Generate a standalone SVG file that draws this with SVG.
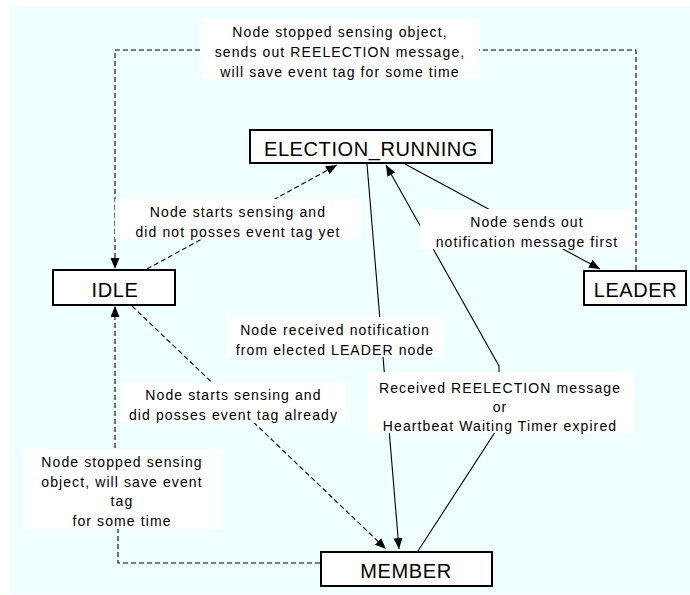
<svg xmlns="http://www.w3.org/2000/svg" width="690" height="595" viewBox="0 0 690 595">
<style>
.bg{fill:#f0ffff}
.edge{fill:none;stroke:#000;stroke-width:1.1}
.dash{stroke-dasharray:5,3}
.lbox{fill:#fff}
.lbl{font-family:"Liberation Sans",Arial,sans-serif;font-size:14px;letter-spacing:1.1px;text-anchor:middle;fill:#000}
.node rect{fill:#fff;stroke:#000;stroke-width:2}
.node text{font-family:"Liberation Sans",Arial,sans-serif;font-size:20px;letter-spacing:0.6px;text-anchor:middle;fill:#000}
</style>
<defs>
<marker id="arr" markerUnits="userSpaceOnUse" markerWidth="12" markerHeight="10" refX="11" refY="4.5" orient="auto">
<path d="M0,0 L11,4.5 L0,9 z" fill="#000"/>
</marker>
</defs>
<rect class="bg" x="10" y="6" width="680" height="588"/>
<g id="connectors">
<path class="edge dash" d="M636,270 V50 H115 V269" marker-end="url(#arr)"/>
<path class="edge dash" d="M147,269 L337,165" marker-end="url(#arr)"/>
<path class="edge" d="M405,164 L600,269" marker-end="url(#arr)"/>
<path class="edge" d="M367,164 L399,549" marker-end="url(#arr)"/>
<path class="edge" d="M418,551 L499,426 L499,366 L386,165" marker-end="url(#arr)"/>
<path class="edge dash" d="M132,306 L386,549" marker-end="url(#arr)"/>
<path class="edge dash" d="M320,563 H118 V490 H115 V306" marker-end="url(#arr)"/>
<g id="label-leader-idle">
<rect class="lbox" x="201" y="19" width="278" height="60"/>
<text class="lbl" x="340" y="37">Node stopped sensing object,</text>
<text class="lbl" x="340" y="57">sends out REELECTION message,</text>
<text class="lbl" x="340" y="76.5">will save event tag for some time</text>
</g>
<g id="label-idle-er">
<rect class="lbox" x="115" y="199" width="245" height="40"/>
<text class="lbl" x="238" y="217">Node starts sensing and</text>
<text class="lbl" x="238" y="236.5">did not posses event tag yet</text>
</g>
<g id="label-er-leader">
<rect class="lbox" x="420" y="209" width="214" height="40"/>
<text class="lbl" x="527" y="227">Node sends out</text>
<text class="lbl" x="527" y="246.5">notification message first</text>
</g>
<g id="label-er-member">
<rect class="lbox" x="227" y="317" width="216" height="40"/>
<text class="lbl" x="335" y="335">Node received notification</text>
<text class="lbl" x="335" y="354.5">from elected LEADER node</text>
</g>
<g id="label-idle-member">
<rect class="lbox" x="121" y="382" width="225" height="41"/>
<text class="lbl" x="233.5" y="400">Node starts sensing and</text>
<text class="lbl" x="233.5" y="420">did posses event tag already</text>
</g>
<g id="label-member-er">
<rect class="lbox" x="368" y="372" width="265" height="61"/>
<text class="lbl" x="500" y="393">Received REELECTION message</text>
<text class="lbl" x="500" y="412">or</text>
<text class="lbl" x="500" y="431">Heartbeat Waiting Timer expired</text>
</g>
<g id="label-member-idle">
<rect class="lbox" x="23" y="449" width="199" height="80"/>
<text class="lbl" x="122" y="466.5">Node stopped sensing</text>
<text class="lbl" x="122" y="486.5">object, will save event</text>
<text class="lbl" x="122" y="506">tag</text>
<text class="lbl" x="122" y="525.5">for some time</text>
</g>
</g>
<g id="node-election-running" class="node">
<rect x="250" y="130" width="242" height="33"/>
<text x="371" y="156">ELECTION_RUNNING</text>
</g>
<g id="node-idle" class="node">
<rect x="53" y="270" width="122" height="35"/>
<text x="115" y="296.5">IDLE</text>
</g>
<g id="node-leader" class="node">
<rect x="584" y="271" width="102" height="34"/>
<text x="635.5" y="296.5">LEADER</text>
</g>
<g id="node-member" class="node">
<rect x="321" y="552" width="171" height="34"/>
<text x="406" y="578">MEMBER</text>
</g>
</svg>
